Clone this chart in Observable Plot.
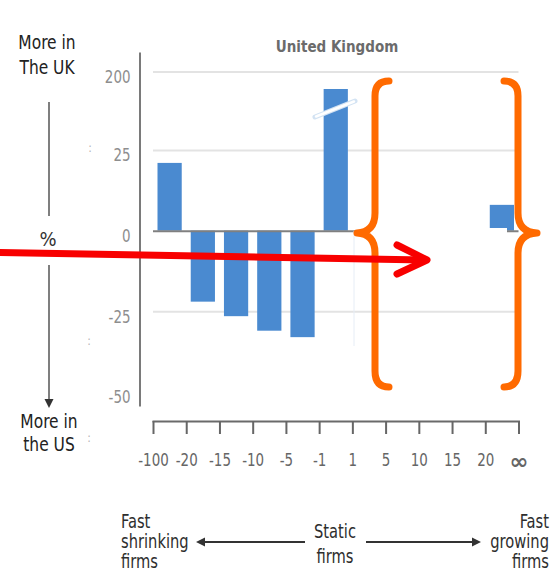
<!DOCTYPE html>
<html>
<head>
<meta charset="utf-8">
<script src="https://cdn.jsdelivr.net/npm/d3@7"></script>
<script src="https://cdn.jsdelivr.net/npm/@observablehq/plot@0.6"></script>
<style>
  html, body { margin: 0; padding: 0; background: #fff; }
  #chart svg { display: block; }
</style>
</head>
<body>
<div id="chart"></div>
<script>
// ---- data ----
const xTickLabels = ["-100", "-20", "-15", "-10", "-5", "-1", "1", "5", "10", "15", "20", "∞"];
const barValues = [21, -22, -26.5, -31, -33, 161, 0, 0, 0, 0, 8];
const yTicks = [200, 25, 0, -25, -50];
const gridValues = [200, 25, -25];
const chartTitle = "United Kingdom";
const topNote = ["More in", "The UK"];
const bottomNote = ["More in", "the US"];
const leftFoot = ["Fast", "shrinking", "firms"];
const midFoot = ["Static", "firms"];
const rightFoot = ["Fast", "growing", "firms"];

const bars = barValues.map((v, i) => ({
  lo: i, hi: i + 1, value: v,
  range: `${xTickLabels[i]} to ${xTickLabels[i + 1]}`
}));
const tickIdx = xTickLabels.map((_, i) => i);

const FONT = '"Liberation Sans Narrow", "DejaVu Sans Condensed", "Liberation Sans", sans-serif';

const chart = Plot.plot({
  width: 556,
  height: 582,
  marginLeft: 153,
  marginRight: 37.5,
  marginTop: 53,
  marginBottom: 161,
  style: { fontFamily: FONT, background: "#fff" },
  x: { type: "linear", domain: [0, 11], axis: null },
  y: { type: "linear", domain: [-50, 25, 200], range: [392, 150, 71.5], axis: null },
  marks: [
    Plot.ruleY(gridValues, { stroke: "#e3e3e3", strokeWidth: 2 }),
    Plot.rectY(bars, { x1: "lo", x2: "hi", y: "value", fill: "#4a8ad0", insetLeft: 4.5, insetRight: 4.5 }),
    Plot.ruleY([0], { stroke: "#808080", strokeWidth: 2 }),
    Plot.frame({ anchor: "left", dx: -13.5, insetBottom: 16, stroke: "#7a7a7a", strokeWidth: 2 }),
    Plot.frame({ anchor: "bottom", stroke: "#6a6a6a", strokeWidth: 2 }),
    Plot.axisY(yTicks, { tickSize: 0, tickPadding: 23, dy: 5, tickFormat: d => String(d), fontSize: 18, color: "#8e8e8e", label: null }),
    Plot.axisX(tickIdx, { tickSize: 13, tickPadding: 19, strokeWidth: 2, tickFormat: i => xTickLabels[i], fontSize: 18, color: "#666", label: null })
  ]
});
document.getElementById("chart").appendChild(chart);

// narrow the axis tick labels horizontally (condensed look of the original)
d3.select(chart).selectAll('g[aria-label="x-axis tick label"] text, g[aria-label="y-axis tick label"] text')
  .each(function () {
    const t = this.getAttribute("transform") || "";
    if (this.textContent === "∞") {
      this.setAttribute("font-weight", "bold");
      this.setAttribute("font-size", 22);
      this.setAttribute("transform", t + " scale(1.15,1)");
    } else {
      this.setAttribute("transform", t + " scale(0.83,1)");
    }
  });

// ---- annotation overlay ----
const svg = d3.select(chart);
const g = svg.append("g").attr("font-family", FONT);

function label(x, y, txt, opts = {}) {
  const sx = opts.sx ?? 0.86;
  return g.append("text")
    .attr("transform", `translate(${x},${y}) scale(${sx},1)`)
    .attr("text-anchor", opts.anchor ?? "middle")
    .attr("font-size", opts.size ?? 20)
    .attr("font-weight", opts.weight ?? "normal")
    .attr("fill", opts.fill ?? "#222")
    .text(txt);
}

// title
label(337, 52, chartTitle, { size: 15, weight: "bold", fill: "#6b6b6b", sx: 1 });

// axis break slash on the tall bar
g.append("line").attr("x1", 315).attr("y1", 117).attr("x2", 355).attr("y2", 101)
  .attr("stroke", "#d3e3f3").attr("stroke-width", 5).attr("stroke-linecap", "round");
g.append("line").attr("x1", 316).attr("y1", 116.5).attr("x2", 354).attr("y2", 101.5)
  .attr("stroke", "#fff").attr("stroke-width", 2.5).attr("stroke-linecap", "round");

// white cover box over the bracketed region
g.append("rect").attr("x", 355).attr("y", 228).attr("width", 152).attr("height", 8).attr("fill", "#fff");
g.append("line").attr("x1", 354).attr("x2", 354).attr("y1", 231).attr("y2", 346).attr("stroke", "#e6edf6").attr("stroke-width", 1);

// left side annotation
topNote.forEach((t, i) => label(47, 49 + i * 25, t));
bottomNote.forEach((t, i) => label(49, 428 + i * 23, t));
g.append("line").attr("x1", 49).attr("x2", 49).attr("y1", 102).attr("y2", 216).attr("stroke", "#555").attr("stroke-width", 1.5);
label(48, 246, "%", { fill: "#333", sx: 1 });
g.append("line").attr("x1", 49).attr("x2", 49).attr("y1", 265).attr("y2", 401).attr("stroke", "#555").attr("stroke-width", 1.5);
g.append("path").attr("d", "M44.5 399 L53.5 399 L49 408 Z").attr("fill", "#333");

// faint remnants
[[90, 152], [89, 345], [89, 442]].forEach(([x, y]) => label(x, y, ":", { size: 12, fill: "#b5b5b5", sx: 1 }));

// bottom annotation
const footFill = "#2e2e2e";
leftFoot.forEach((t, i) => label(121, 528 + i * 20, t, { anchor: "start", size: 19, fill: footFill }));
rightFoot.forEach((t, i) => label(549, 528 + i * 20, t, { anchor: "end", size: 19, fill: footFill }));
midFoot.forEach((t, i) => label(335, 538 + i * 25, t, { size: 19, fill: footFill }));
g.append("line").attr("x1", 202).attr("x2", 305).attr("y1", 542).attr("y2", 542).attr("stroke", "#333").attr("stroke-width", 2);
g.append("path").attr("d", "M196 542 L205 537.5 L205 546.5 Z").attr("fill", "#333");
g.append("line").attr("x1", 366).attr("x2", 474).attr("y1", 542).attr("y2", 542).attr("stroke", "#333").attr("stroke-width", 2);
g.append("path").attr("d", "M481 542 L472 537.5 L472 546.5 Z").attr("fill", "#333");

// orange braces
const orange = "#ff6a00";
g.append("path").attr("d", "M389 81 Q375 81 375 96 L375 213 Q375 232 357 233 Q375 234 375 253 L375 371 Q375 387 389 387")
  .attr("fill", "none").attr("stroke", orange).attr("stroke-width", 7).attr("stroke-linecap", "round").attr("stroke-linejoin", "round");
g.append("path").attr("d", "M504 81 Q518 81 518 96 L518 213 Q518 232 537 233 Q518 234 518 253 L518 371 Q518 387 504 387")
  .attr("fill", "none").attr("stroke", orange).attr("stroke-width", 7).attr("stroke-linecap", "round").attr("stroke-linejoin", "round");

// red arrow
g.append("line").attr("x1", -5).attr("y1", 252.5).attr("x2", 424).attr("y2", 260)
  .attr("stroke", "#f80000").attr("stroke-width", 7);
g.append("path").attr("d", "M397 245 L427 260 L397 274")
  .attr("fill", "none").attr("stroke", "#f80000").attr("stroke-width", 7).attr("stroke-linecap", "round").attr("stroke-linejoin", "round");
</script>
</body>
</html>
